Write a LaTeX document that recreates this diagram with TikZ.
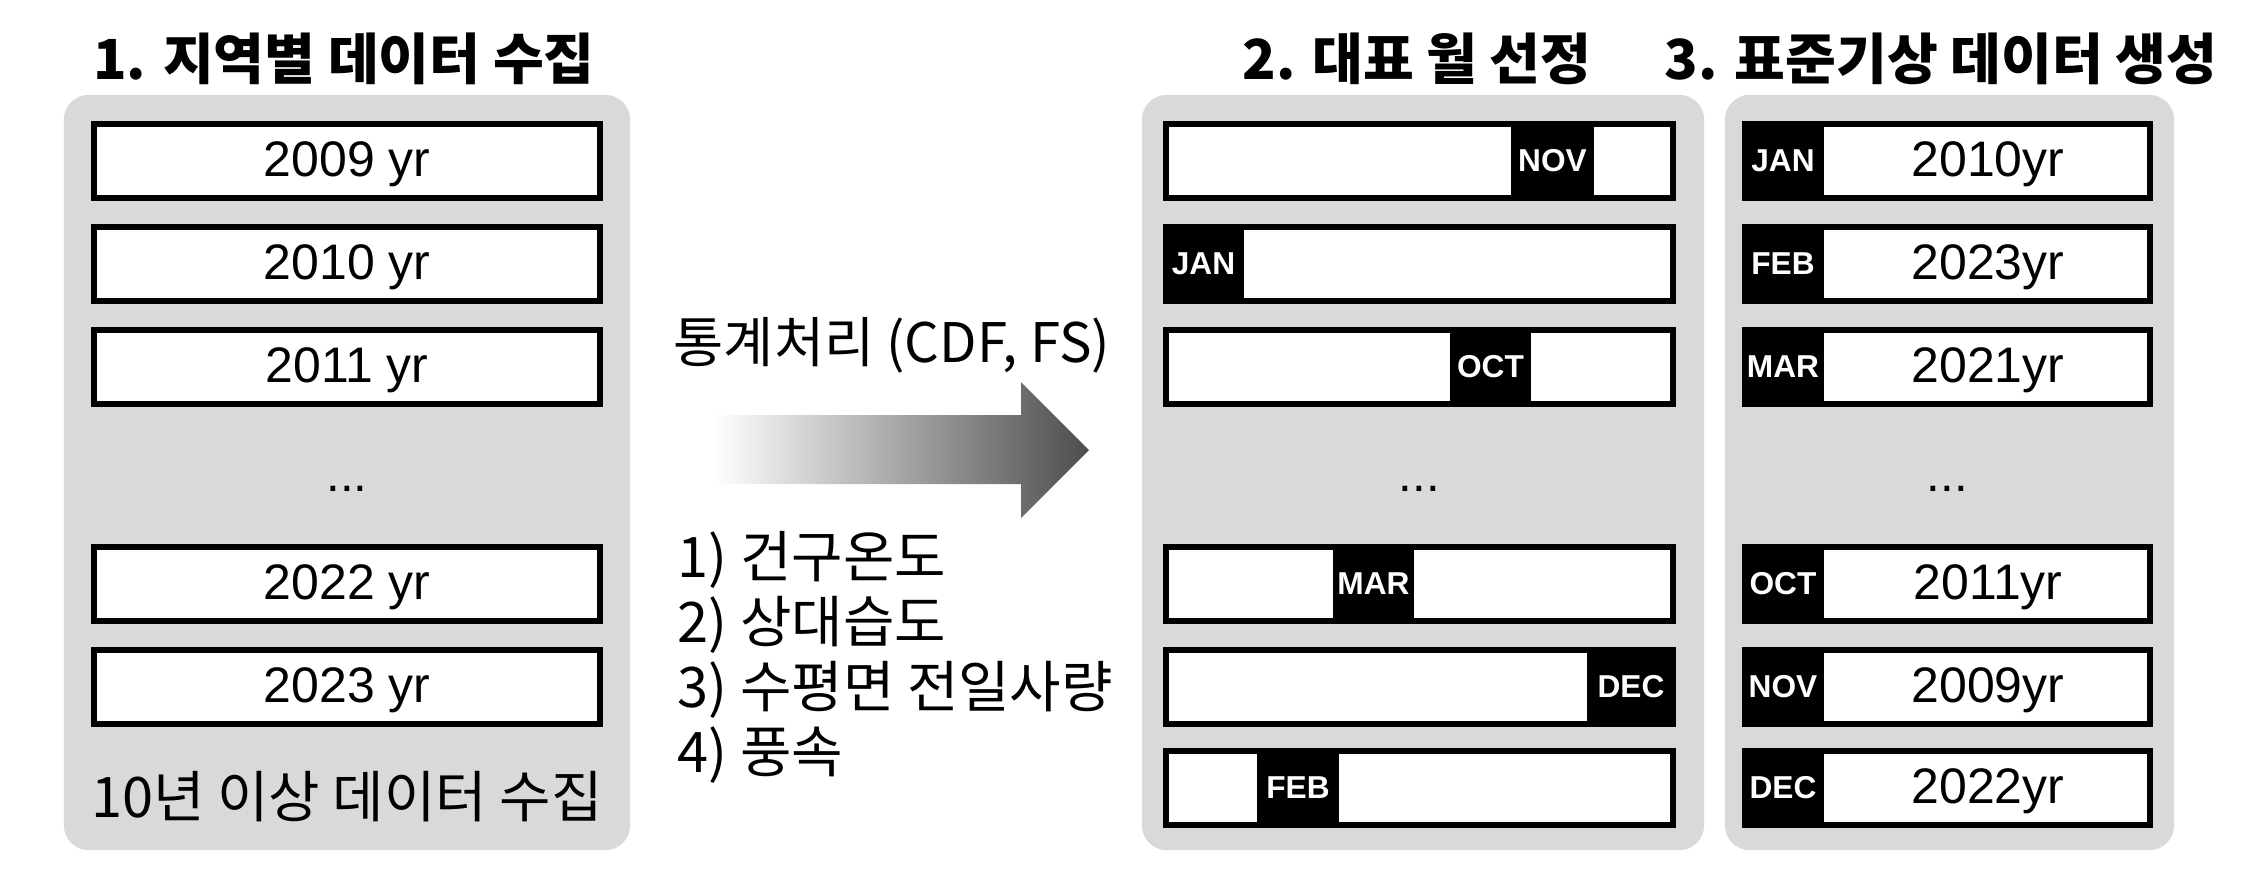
\documentclass[tikz,border=0pt]{standalone}
\usepackage{fontspec}
\setmainfont{Liberation Sans}
\newfontfamily\krfont{Noto Sans CJK KR}

\definecolor{panelgray}{HTML}{D9D9D9}

\begin{document}
\begin{tikzpicture}[
    x = 0.01cm, y = -0.01cm,
    every node/.style = {inner sep = 0pt},
    panel/.style = {fill = panelgray, rounded corners = 0.25cm, minimum height = 7.55cm},
    yearbox/.style = {draw, fill = white, line width = 0.06cm, minimum height = 0.74cm,
                      text height = 9pt, text depth = 0pt, font = \fontsize{14.2}{16}\selectfont},
    yeartext/.style = {text height = 9pt, text depth = 0pt, font = \fontsize{14.2}{16}\selectfont},
    monthtab/.style = {fill = black, text = white, minimum height = 0.80cm,
                       text height = 6.2pt, text depth = 0pt, font = \bfseries\fontsize{9}{10}\selectfont},
    title/.style = {font = \krfont\bfseries\fontsize{15.7}{18}\selectfont},
    note/.style = {font = \krfont\fontsize{15.9}{18.5}\selectfont},
    dots/.style = {font = \fontsize{14}{16}\selectfont}]

\useasboundingbox (0,0) rectangle (2268,869);

% panels
\node[panel, minimum width = 5.66cm] (p1) at (347,472.5) {};
\node[panel, minimum width = 5.62cm] (p2) at (1423,472.5) {};
\node[panel, minimum width = 4.49cm] (p3) at (1949.5,472.5) {};

% titles
\node[title] (t1) at (344,59) {1. 지역별 데이터 수집};
\node[title] (t2) at (1417,59) {2. 대표 월 선정};
\node[title] (t3) at (1941,59) {3. 표준기상 데이터 생성};

% 1. yearly data
\node[yearbox, minimum width = 5.06cm] (a1) at (347,161) {2009 yr};
\node[yearbox, minimum width = 5.06cm] (a2) at (347,264) {2010 yr};
\node[yearbox, minimum width = 5.06cm] (a3) at (347,367) {2011 yr};
\node[dots] (ad) at (347,489) {...};
\node[yearbox, minimum width = 5.06cm] (a4) at (347,584) {2022 yr};
\node[yearbox, minimum width = 5.06cm] (a5) at (347,687) {2023 yr};
\node[note] (an) at (347,797) {10년 이상 데이터 수집};

% processing
\node[note, anchor = west, font = \krfont\fontsize{15.5}{18}\selectfont] (proc) at (673,345) {통계처리 (CDF, FS)};
\shade[left color = white, right color = black!70]
      (713,415) -- (1021,415) -- (1021,382) -- (1089,450) -- (1021,518) -- (1021,484) -- (713,484) -- cycle;
\node[note, align = left, anchor = west] (vars) at (677,657.5)
     {1) 건구온도\\2) 상대습도\\3) 수평면 전일사량\\4) 풍속};

% 2. representative months
\node[yearbox, minimum width = 5.07cm] (b1) at (1419.5,161) {};
\node[yearbox, minimum width = 5.07cm] (b2) at (1419.5,264) {};
\node[yearbox, minimum width = 5.07cm] (b3) at (1419.5,367) {};
\node[dots] (bd) at (1419.5,489) {...};
\node[yearbox, minimum width = 5.07cm] (b4) at (1419.5,584) {};
\node[yearbox, minimum width = 5.07cm] (b5) at (1419.5,687) {};
\node[yearbox, minimum width = 5.07cm] (b6) at (1419.5,788) {};
\node[monthtab, minimum width = 0.83cm] (nov) at (1552.5,161) {NOV};
\node[monthtab, minimum width = 0.81cm] (jan) at (1203.5,264) {JAN};
\node[monthtab, minimum width = 0.81cm] (oct) at (1490.5,367) {OCT};
\node[monthtab, minimum width = 0.81cm] (mar) at (1373.5,584) {MAR};
\node[monthtab, minimum width = 0.88cm] (dec) at (1631,687) {DEC};
\node[monthtab, minimum width = 0.82cm] (feb) at (1298,788) {FEB};

% 3. typical weather data
\node[yearbox, minimum width = 4.05cm] (c1) at (1947.5,161) {};
\node[yearbox, minimum width = 4.05cm] (c2) at (1947.5,264) {};
\node[yearbox, minimum width = 4.05cm] (c3) at (1947.5,367) {};
\node[dots] (cd) at (1947.5,489) {...};
\node[yearbox, minimum width = 4.05cm] (c4) at (1947.5,584) {};
\node[yearbox, minimum width = 4.05cm] (c5) at (1947.5,687) {};
\node[yearbox, minimum width = 4.05cm] (c6) at (1947.5,788) {};
\node[monthtab, minimum width = 0.82cm] (cm1) at (1783,161) {JAN};
\node[monthtab, minimum width = 0.82cm] (cm2) at (1783,264) {FEB};
\node[monthtab, minimum width = 0.82cm] (cm3) at (1783,367) {MAR};
\node[monthtab, minimum width = 0.82cm] (cm4) at (1783,584) {OCT};
\node[monthtab, minimum width = 0.82cm] (cm5) at (1783,687) {NOV};
\node[monthtab, minimum width = 0.82cm] (cm6) at (1783,788) {DEC};
\node[yeartext] (cy1) at (1988,161) {2010yr};
\node[yeartext] (cy2) at (1988,264) {2023yr};
\node[yeartext] (cy3) at (1988,367) {2021yr};
\node[yeartext] (cy4) at (1988,584) {2011yr};
\node[yeartext] (cy5) at (1988,687) {2009yr};
\node[yeartext] (cy6) at (1988,788) {2022yr};
\end{tikzpicture}
\end{document}
